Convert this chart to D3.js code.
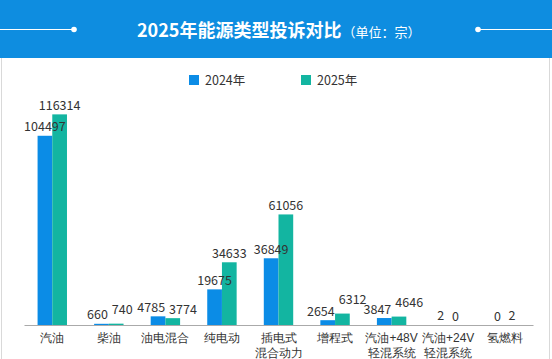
<!DOCTYPE html>
<html><head><meta charset="utf-8">
<script src="https://cdn.jsdelivr.net/npm/d3@7"></script>
<style>
html,body{margin:0;padding:0;background:#fff;}
svg{display:block;font-family:"Noto Sans CJK SC","Noto Sans",sans-serif;}
</style></head>
<body><svg id="c" width="552" height="359"></svg>
<script>
const categories = ["汽油","柴油","油电混合","纯电动","插电式\n混合动力","增程式","汽油+48V\n轻混系统","汽油+24V\n轻混系统","氢燃料"];
const seriesNames = ["2024年","2025年"];
const values2024 = [104497,660,4785,19675,36849,2654,3847,2,0];
const values2025 = [116314,740,3774,34633,61056,6312,4646,0,2];
const colors = ["#0b8ce6","#13b5a1"];

const svg = d3.select("#c");
const W = 552, H = 359;

// header
svg.append("rect").attr("x",0).attr("y",0).attr("width",W).attr("height",58).attr("fill","#0e8de0");
svg.append("line").attr("x1",0).attr("x2",74).attr("y1",29.5).attr("y2",29.5).attr("stroke","#fff").attr("stroke-width",1.2);
svg.append("circle").attr("cx",74).attr("cy",29.5).attr("r",2.8).attr("fill","#fff");
svg.append("line").attr("x1",478).attr("x2",W).attr("y1",29.5).attr("y2",29.5).attr("stroke","#fff").attr("stroke-width",1.2);
svg.append("circle").attr("cx",478).attr("cy",29.5).attr("r",2.8).attr("fill","#fff");
const title = svg.append("text").attr("x",137).attr("y",37).attr("fill","#fff");
title.append("tspan").attr("font-size",18).attr("font-weight","bold").text("2025年能源类型投诉对比");
title.append("tspan").attr("font-size",13).attr("dx",1).text("（单位：宗）");

// side borders
svg.append("line").attr("x1",1.5).attr("x2",1.5).attr("y1",58).attr("y2",H).attr("stroke","#d9d9d9");
svg.append("line").attr("x1",549.5).attr("x2",549.5).attr("y1",58).attr("y2",H).attr("stroke","#d9d9d9");

// legend
const lg = svg.append("g");
[[189,205],[301,317]].forEach((p,i)=>{
  lg.append("rect").attr("x",p[0]).attr("y",75).attr("width",10).attr("height",10).attr("fill",colors[i]);
  lg.append("text").attr("x",p[1]).attr("y",84.5).attr("font-size",12.5).attr("fill","#333").text(seriesNames[i]);
});

// scales
const x0 = d3.scaleBand().domain(categories).range([24,533]).paddingInner(0.48).paddingOuter(0.24);
const x1 = d3.scaleBand().domain(seriesNames).range([0,x0.bandwidth()]);
const y = d3.scaleLinear().domain([0,120000]).range([325,107.7]);

const data = categories.map((c,i)=>({c, v:[values2024[i],values2025[i]]}));

const g = svg.append("g");
data.forEach(d=>{
  d.v.forEach((v,j)=>{
    const bx = x0(d.c)+x1(seriesNames[j]);
    g.append("rect").attr("x",bx).attr("y",y(v)).attr("width",x1.bandwidth()).attr("height",y(0)-y(v)).attr("fill",colors[j]);
  });
});

// value labels with simple overlap avoidance
data.forEach(d=>{
  const labs = d.v.map((v,j)=>{
    const bx = x0(d.c)+x1(seriesNames[j]);
    const t = g.append("text").attr("x",bx+x1.bandwidth()/2).attr("y",y(v)-4.5).attr("text-anchor","middle")
      .attr("font-size",12.5).attr("fill","#333").text(v);
    const w = t.node().getComputedTextLength();
    return {t, cx: bx+x1.bandwidth()/2, cy: y(v)-4.5, w};
  });
  const [a,b] = labs;
  const need = (a.w+b.w)/2 + 4;
  const dist = b.cx - a.cx;
  if (Math.abs(a.cy-b.cy) < 10 && dist < need) {
    const ov = need - dist;
    a.t.attr("x", a.cx - ov*0.4);
    b.t.attr("x", b.cx + ov*0.6);
    if (b.cy <= a.cy + 1) b.t.attr("y", b.cy - 5);
  }
});

// x axis
const ax = svg.append("g").attr("transform","translate(0,325)").call(d3.axisBottom(x0).tickSize(0).tickFormat(""));
ax.select(".domain").attr("stroke","#aaa").attr("stroke-width",1.2);
ax.selectAll(".tick").each(function(d){
  const t = d3.select(this);
  const lines = d.split("\n");
  const tx = t.append("text").attr("fill","#333").attr("font-size",12).attr("text-anchor","middle");
  lines.forEach((l,k)=>tx.append("tspan").attr("x",0).attr("y",16.5+k*15).text(l));
});
</script></body></html>
